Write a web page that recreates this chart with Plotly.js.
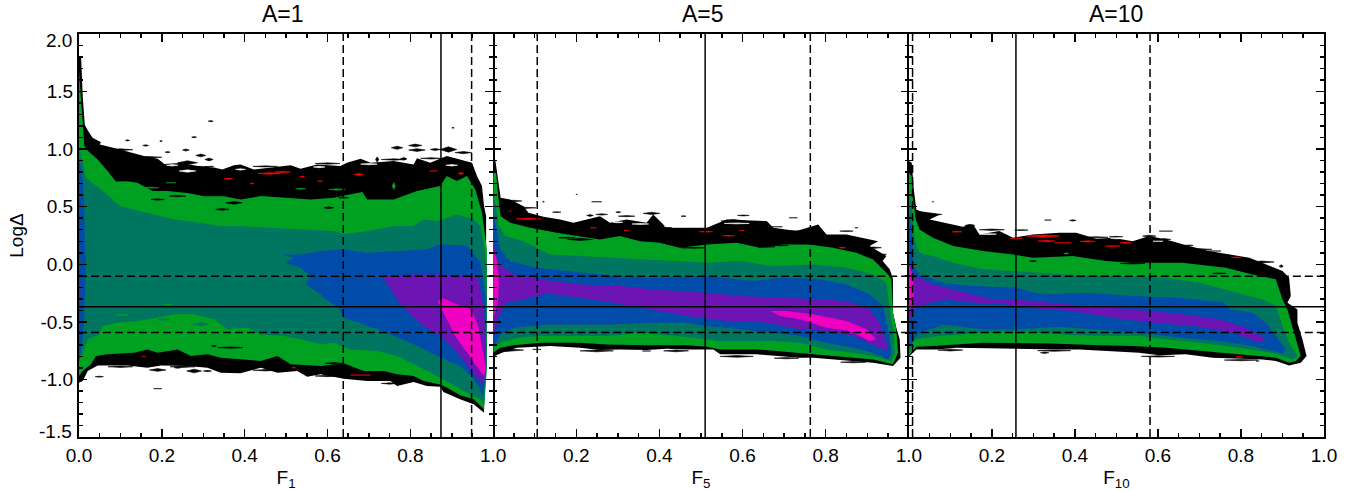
<!DOCTYPE html>
<html>
<head>
<meta charset="utf-8">
<script src="https://cdn.plot.ly/plotly-3.0.1.min.js"></script>
<style>html,body{margin:0;padding:0;background:#fff}</style>
</head>
<body>
<div id="chart" style="width:1354px;height:491px"></div>
<script>
// ---------- chart values (x = F_A, y = Log Delta) ----------
const yTickVals = [-1, -0.5, 0, 0.5, 1, 1.5];
const yTickText = ['-1.0', '-0.5', '0.0', '0.5', '1.0', '1.5'];
const yMinorVals = [-1.4,-1.3,-1.2,-1.1,-0.9,-0.8,-0.7,-0.6,-0.4,-0.3,-0.2,-0.1,0.1,0.2,0.3,0.4,0.6,0.7,0.8,0.9,1.1,1.2,1.3,1.4,1.6,1.7,1.8,1.9];
const xTicks1 = [0, 0.2, 0.4, 0.6, 0.8, 1];
const xTicksOther = [0.2, 0.4, 0.6, 0.8, 1];
const xMinorVals = [0.05,0.1,0.15,0.25,0.3,0.35,0.45,0.5,0.55,0.65,0.7,0.75,0.85,0.9,0.95];
const hMedian = -0.368, hLow = -0.592, hHigh = -0.103;
const vLines1 = [0.638, 0.874, 0.948];
const vLines5 = [0.106, 0.51, 0.763];
const vLines10 = [0.009, 0.258, 0.581];

// panel A=1 contour outlines
const a1BlackX = [0,.005,.009,.014,.025,.033,.053,.05,.085,.121,.157,.19,.206,.246,.286,.326,.346,.374,.39,.422,.479,.511,.535,.575,.631,.647,.68,.704,.76,.808,.816,.848,.888,.92,.949,.961,.973,.978,.983,.983,.98,.978,.953,.92,.88,.872,.84,.808,.768,.752,.696,.639,.583,.551,.527,.479,.439,.39,.342,.31,.262,.198,.165,.117,.045,.021,.009,0];
const a1BlackY = [1.81,1.81,1.46,1.21,1.14,1.1,1.06,1.04,1.01,.975,.94,.917,.87,.88,.853,.84,.823,.861,.867,.824,.844,.861,.83,.867,.853,.882,.916,.882,.896,.867,.92,.882,.94,.91,.882,.766,.68,.505,.419,.2,-1.2,-1.29,-1.216,-1.173,-1.109,-1.063,-1.057,-1.022,-1.057,-1.014,-1.014,-.994,-.956,-.976,-.927,-.941,-.898,-.947,-.941,-.898,-.884,-.878,-.898,-.878,-.878,-.927,-1.014,-1.028];
const a1GreenX = [0,.005,.009,.013,.022,.045,.069,.089,.117,.141,.178,.214,.262,.302,.35,.39,.439,.503,.559,.615,.684,.696,.76,.816,.872,.888,.912,.937,.957,.973,.978,.985,.985,.978,.953,.92,.888,.872,.832,.808,.768,.736,.688,.639,.583,.511,.479,.439,.342,.31,.27,.238,.19,.165,.133,.069,.041,.029,.009,0];
const a1GreenY = [1.68,1.46,1.23,1.03,.983,.91,.81,.72,.722,.708,.636,.636,.62,.59,.59,.563,.592,.578,.563,.578,.627,.563,.563,.636,.68,.766,.723,.766,.65,.448,.332,.129,-.9,-1.26,-1.173,-1.138,-1.07,-1.043,-1.014,-.97,-.956,-.927,-.927,-.86,-.884,-.869,-.797,-.84,-.811,-.782,-.797,-.739,-.768,-.739,-.768,-.782,-.797,-.869,-.927,-.97];
const a1TealX = [0,.005,.017,.053,.1,.165,.23,.294,.342,.39,.455,.535,.615,.639,.696,.76,.808,.832,.864,.912,.953,.969,.978,.984,.984,.978,.969,.937,.888,.872,.808,.768,.72,.655,.615,.583,.535,.495,.439,.407,.358,.326,.278,.23,.19,.141,.093,.057,.049,.021,.009,0];
const a1TealY = [1.0,.95,.75,.65,.505,.45,.39,.36,.33,.33,.317,.303,.288,.26,.288,.332,.332,.39,.375,.433,.39,.332,.158,-.02,-.9,-1.22,-1.173,-1.115,-1.014,-.985,-.869,-.797,-.753,-.739,-.681,-.695,-.652,-.623,-.609,-.551,-.565,-.478,-.435,-.435,-.464,-.493,-.507,-.536,-.609,-.652,-.768,-.84];
const a1BlueX = [.491,.535,.583,.631,.696,.768,.84,.872,.937,.969,.983,.983,.975,.965,.947,.92,.872,.84,.808,.76,.72,.664,.639,.627,.595,.583,.547,.559,.535,.499,.52];
const a1BlueY = [.086,.086,.115,.13,.1,.115,.13,.173,.158,.016,-.3,-.9,-1.144,-1.057,-.97,-.884,-.81,-.75,-.695,-.623,-.565,-.493,-.464,-.377,-.305,-.261,-.175,-.102,-.03,.013,.057];
const a1BlueEdgeX = [0,.007,.012,.014,.017,.015,.012,.007,0];
const a1BlueEdgeY = [.92,.8,.6,.2,0,-.2,-.5,-.7,-.85];
const a1PurpleX = [.732,.8,.872,.962,.977,.983,.98,.972,.948,.92,.874,.832,.804,.776];
const a1PurpleY = [-.102,-.088,-.088,-.102,-.363,-.767,-.983,-1.04,-.927,-.797,-.623,-.536,-.45,-.348];
const a1MagentaX = [.866,.88,.912,.948,.964,.983,.977,.948,.908,.88];
const a1MagentaY = [-.32,-.296,-.348,-.392,-.536,-.912,-.97,-.826,-.623,-.42];
const a1PurpleEdgeX = [0,.003,.003,0];
const a1PurpleEdgeY = [-.08,-.15,-.32,-.42];

// panel A=5 contour outlines
const a5BlackX = [.005,.013,.018,.041,.057,.073,.085,.121,.161,.193,.225,.257,.281,.321,.369,.385,.401,.417,.466,.514,.562,.658,.674,.73,.782,.802,.85,.926,.906,.946,.937,.954,.962,.962,.97,.978,.98,.962,.914,.866,.818,.77,.738,.682,.634,.546,.53,.466,.417,.369,.305,.257,.209,.137,.057,.021,0,0];
const a5BlackY = [.91,.708,.578,.563,.534,.505,.447,.413,.39,.361,.39,.418,.361,.39,.361,.433,.375,.317,.317,.317,.39,.375,.317,.288,.346,.259,.259,.2,.158,.071,.028,-.044,-.131,-.42,-.551,-.652,-.811,-.884,-.855,-.84,-.826,-.811,-.811,-.797,-.782,-.782,-.739,-.739,-.733,-.745,-.739,-.745,-.725,-.71,-.725,-.768,-.803,.91];
const a5GreenX = [0,.007,.013,.018,.041,.089,.153,.209,.257,.305,.353,.401,.449,.514,.586,.642,.698,.761,.818,.874,.914,.95,.958,.962,.97,.974,.962,.914,.866,.818,.77,.69,.634,.546,.514,.466,.369,.273,.209,.113,.049,.017,0];
const a5GreenY = [.795,.795,.563,.418,.361,.317,.274,.245,.216,.245,.201,.187,.143,.172,.187,.143,.172,.172,.143,.1,.042,-.088,-.131,-.42,-.565,-.768,-.869,-.826,-.811,-.797,-.782,-.753,-.739,-.739,-.716,-.704,-.704,-.696,-.681,-.681,-.704,-.725,-.768];
const a5TealX = [0,.007,.013,.029,.073,.137,.209,.289,.385,.514,.594,.674,.77,.85,.914,.946,.953,.962,.966,.958,.914,.866,.802,.738,.674,.594,.546,.482,.401,.353,.273,.193,.113,.057,.017,0];
const a5TealY = [.592,.505,.332,.245,.201,.086,.071,.057,.042,.013,.028,-.016,-.001,-.03,-.088,-.16,-.363,-.565,-.768,-.84,-.797,-.768,-.739,-.681,-.667,-.667,-.667,-.638,-.609,-.594,-.623,-.623,-.623,-.638,-.681,-.724];
const a5BlueX = [0,.009,.017,.041,.105,.177,.289,.385,.514,.626,.69,.786,.85,.906,.938,.95,.958,.95,.914,.866,.802,.738,.674,.594,.514,.466,.369,.289,.209,.129,.049,.017,.005,0];
const a5BlueY = [.462,.274,.129,.028,-.03,-.059,-.102,-.117,-.102,-.146,-.117,-.131,-.175,-.261,-.363,-.565,-.768,-.826,-.768,-.724,-.681,-.623,-.594,-.565,-.536,-.507,-.507,-.522,-.522,-.522,-.551,-.609,-.695,-.724];
const a5PurpleX = [0,.009,.021,.049,.113,.209,.305,.385,.514,.594,.69,.81,.866,.906,.93,.946,.948,.922,.866,.802,.738,.658,.562,.466,.417,.353,.289,.209,.129,.089,.033,.013,.007,0];
const a5PurpleY = [.216,.042,-.016,-.088,-.131,-.175,-.189,-.218,-.247,-.276,-.29,-.305,-.334,-.392,-.507,-.681,-.753,-.71,-.623,-.579,-.565,-.507,-.493,-.45,-.421,-.377,-.334,-.29,-.253,-.29,-.334,-.45,-.565,-.652];
const a5MagentaX = [.666,.706,.77,.85,.898,.922,.906,.858,.802,.738,.69];
const a5MagentaY = [-.406,-.406,-.435,-.493,-.565,-.652,-.667,-.58,-.551,-.478,-.45];
const a5MagentaEdgeX = [0,.008,.014,.012,.005,0];
const a5MagentaEdgeY = [.13,.05,-.12,-.3,-.42,-.45];

// panel A=10 contour outlines
const a10BlackX = [0,.007,.012,.018,.026,.075,.05,.083,.13,.155,.17,.218,.251,.299,.363,.403,.451,.491,.539,.579,.619,.675,.723,.82,.86,.9,.916,.92,.912,.936,.936,.948,.958,.944,.916,.884,.852,.796,.732,.667,.603,.555,.491,.411,.355,.259,.179,.115,.067,.018,.002,0];
const a10BlackY = [.896,.882,.65,.476,.462,.433,.39,.361,.326,.346,.259,.288,.23,.259,.274,.274,.222,.23,.201,.245,.216,.158,.115,.057,-.001,-.059,-.117,-.276,-.334,-.392,-.507,-.652,-.797,-.855,-.878,-.84,-.826,-.82,-.811,-.782,-.791,-.768,-.753,-.739,-.739,-.733,-.724,-.724,-.739,-.739,-.797,-.803];
const a10GreenX = [0,.007,.01,.017,.026,.058,.107,.179,.251,.299,.395,.475,.539,.659,.764,.828,.884,.9,.912,.924,.936,.944,.932,.916,.884,.796,.7,.619,.539,.459,.339,.259,.179,.058,.018,.006,0];
const a10GreenY = [.795,.766,.563,.39,.303,.23,.158,.115,.086,.057,.071,.028,.013,.013,-.03,-.088,-.131,-.305,-.392,-.536,-.681,-.797,-.84,-.855,-.811,-.782,-.753,-.724,-.71,-.704,-.687,-.687,-.681,-.71,-.716,-.768,-.797];
const a10TealX = [0,.007,.014,.026,.058,.107,.179,.259,.379,.499,.619,.7,.78,.852,.884,.9,.916,.936,.924,.876,.796,.7,.619,.555,.459,.379,.259,.179,.075,.018,.006,0];
const a10TealY = [.607,.505,.216,.1,.071,.013,-.044,-.059,-.088,-.102,-.117,-.16,-.233,-.305,-.363,-.536,-.681,-.797,-.826,-.768,-.724,-.681,-.652,-.623,-.623,-.609,-.58,-.594,-.623,-.652,-.695,-.768];
const a10BlueX = [0,.006,.012,.026,.083,.155,.259,.323,.427,.539,.651,.76,.772,.828,.86,.884,.908,.9,.828,.748,.659,.555,.459,.363,.259,.179,.083,.026,.014,.006,0];
const a10BlueY = [.462,.303,-.016,-.088,-.16,-.189,-.204,-.262,-.247,-.276,-.29,-.334,-.392,-.421,-.507,-.623,-.739,-.774,-.71,-.667,-.638,-.594,-.565,-.542,-.565,-.565,-.522,-.594,-.638,-.71,-.753];
const a10PurpleX = [0,.014,.058,.123,.203,.259,.339,.427,.539,.659,.748,.812,.86,.844,.78,.684,.587,.491,.395,.283,.235,.155,.091,.05,.018,.01,0];
const a10PurpleY = [.013,-.102,-.175,-.233,-.305,-.305,-.334,-.363,-.392,-.435,-.478,-.551,-.652,-.675,-.594,-.536,-.507,-.464,-.406,-.377,-.348,-.334,-.305,-.334,-.377,-.435,-.493];
const a10MagentaEdgeX = [0,.01,.012,.006,0];
const a10MagentaEdgeY = [-.001,-.102,-.276,-.363,-.4];

// isolated contour islands: centre x, centre y, half width, half height
const a1BlackIsleX = [.318,.278,.117,.161,.198,.258,.294,.314,.214,.262,.768,.812,.816,.892,.928,.86,.72,.784,.903,.19,.278,.238,.31,.049,.19,.346,.603,.238,.19,.374,.736,.639,.366,.326,.615];
const a1BlackIsleY = [1.243,1.104,1.076,1.032,1.07,.992,.945,.91,.974,.882,1.012,1.032,.992,.997,.97,.997,.91,.916,1.185,-.918,-.927,-.898,-.927,-.976,-1.08,.477,.491,.592,.563,.534,.607,.578,-.724,-.71,-.86];
const a1BlackIsleW = [.006,.006,.005,.007,.003,.008,.012,.01,.006,.024,.014,.016,.02,.02,.02,.012,.004,.008,.003,.02,.018,.008,.01,.01,.01,.016,.012,.02,.016,.02,.014,.012,.03,.006,.02];
const a1BlackIsleH = [.005,.005,.006,.006,.006,.009,.012,.012,.006,.017,.014,.012,.012,.023,.009,.009,.023,.012,.004,.012,.016,.006,.006,.004,.002,.008,.008,.006,.006,.012,.01,.004,.006,.004,.006];
const a1FringeX = [.1,.17,.3,.45,.6,.76,.85,.1,.25,.45,.6,.75];
const a1FringeY = [.995,.93,.85,.85,.875,.91,.92,-.89,-.89,-.92,-.97,-1.035];
const a1FringeW = [.03,.03,.025,.03,.03,.03,.025,.03,.03,.03,.03,.02];
const a1FringeH = [.008,.006,.006,.005,.006,.006,.006,.006,.006,.006,.006,.006];
const a1HoleX = [.262,.39,.225,.3,.58,.9,.7];
const a1HoleY = [.81,.824,.86,.86,.845,.86,.87];
const a1HoleW = [.02,.012,.014,.016,.014,.014,.02];
const a1HoleH = [.01,.006,.006,.006,.006,.006,.006];
const a1GreenIsleX = [.76,.623,.535,.222,.173,.214,.105];
const a1GreenIsleY = [.68,.65,.656,.708,.665,-.348,-.44];
const a1GreenIsleW = [.004,.02,.012,.012,.02,.012,.014];
const a1GreenIsleH = [.03,.006,.004,.003,.005,.006,.006];
const a1TealIsleX = [.294,.205];
const a1TealIsleY = [-.52,-.48];
const a1TealIsleW = [.018,.014];
const a1TealIsleH = [.016,.008];
const a1RedX = [.459,.491,.361,.418,.539,.582,.675,.922,.856,.68,.519,.157];
const a1RedY = [.789,.801,.743,.702,.76,.722,.78,.789,.81,-.962,-.898,-.8];
const a1RedW = [.028,.02,.01,.005,.006,.006,.012,.007,.01,.024,.004,.004];
const a1RedH = [.007,.007,.004,.005,.004,.004,.008,.008,.002,.003,.004,.002];

const a5BlackIsleX = [.121,.249,.201,.153,.233,.261,.321,.301,.381,.458,.602,.578,.61,.682,.85,.874,.722,.105,.369,.209,.177,.433,.482,.69,.658];
const a5BlackIsleY = [.543,.543,.607,.453,.424,.433,.418,.453,.442,.418,.424,.375,.337,.326,.288,.317,.404,-.739,-.753,.216,.23,.173,.143,.164,.152];
const a5BlackIsleW = [.002,.012,.002,.01,.008,.014,.02,.006,.02,.006,.014,.03,.04,.014,.016,.004,.01,.01,.01,.03,.02,.016,.03,.02,.02];
const a5BlackIsleH = [.004,.002,.002,.004,.008,.006,.005,.006,.01,.004,.004,.014,.005,.003,.004,.002,.002,.003,.003,.01,.004,.006,.004,.004,.005];
const a5FringeX = [.033,.249,.44,.586,.706,.866,.049,.073,.329,.41,.545,.626,.746,.85,.914,.93];
const a5FringeY = [-.745,-.752,-.752,-.8,-.815,-.85,.55,.49,.361,.317,.326,.366,.288,.23,.144,.086];
const a5FringeW = [.04,.04,.03,.04,.03,.03,.02,.03,.03,.02,.02,.03,.03,.03,.02,.016];
const a5FringeH = [.012,.008,.008,.008,.006,.006,.006,.006,.004,.006,.004,.006,.004,.006,.006,.005];
const a5HoleX = [.442,.586,.354,.49,.3];
const a5HoleY = [.33,.355,.35,.345,.365];
const a5HoleW = [.03,.03,.02,.012,.012];
const a5HoleH = [.006,.004,.004,.004,.004];
const a5RedX = [.085,.241,.321,.512,.566,.598,.84,.041];
const a5RedY = [.395,.317,.294,.283,.248,.294,.144,.462];
const a5RedW = [.03,.008,.006,.016,.014,.006,.008,.003];
const a5RedH = [.006,.003,.003,.004,.004,.002,.004,.002];

const a10BlackIsleX = [.058,.05,.147,.335,.395,.271,.499,.579,.619,.615,.675,.736,.897,.327,.84,.299,.539,.748];
const a10BlackIsleY = [.543,.433,.337,.384,.381,.297,.239,.245,.288,.216,.164,.115,-.016,-.768,-.84,.028,.008,-.079];
const a10BlackIsleW = [.002,.03,.012,.008,.008,.016,.016,.016,.016,.016,.01,.016,.005,.01,.004,.008,.03,.016];
const a10BlackIsleH = [.002,.012,.01,.003,.006,.004,.004,.008,.003,.008,.004,.003,.012,.006,.003,.005,.006,.004];
const a10FringeX = [.1,.35,.6,.8,.2,.45,.7,.85];
const a10FringeY = [-.745,-.75,-.8,-.832,.3,.235,.13,.02];
const a10FringeW = [.03,.04,.04,.04,.03,.03,.03,.03];
const a10FringeH = [.008,.006,.006,.006,.006,.005,.006,.008];
const a10HoleX = [.191,.24,.5,.6];
const a10HoleY = [.262,.27,.225,.2];
const a10HoleW = [.02,.01,.014,.012];
const a10HoleH = [.004,.004,.004,.003];
const a10GreenIsleX = [.379];
const a10GreenIsleY = [.094];
const a10GreenIsleW = [.006];
const a10GreenIsleH = [.006];
const a10RedX = [.116,.259,.323,.331,.371,.431,.491,.523,.788,.796];
const a10RedY = [.282,.225,.245,.202,.187,.199,.158,.187,.06,-.803];
const a10RedW = [.012,.014,.04,.02,.02,.018,.018,.014,.012,.008];
const a10RedH = [.004,.004,.01,.006,.003,.006,.004,.004,.004,.003];

// ---------- styles ----------
const BLACK = '#000000', RED = '#ff0000', GREEN = '#00a020', TEAL = '#007560',
      BLUE = '#004ca8', PURPLE = '#6c14b4', MAGENTA = '#f000c0', WHITE = '#ffffff';
const FONT = 'Liberation Sans, Arial, sans-serif';

function band(xs, ys, color, ax) {
  return {type:'scatter', mode:'lines', x:xs.concat(xs[0]), y:ys.concat(ys[0]),
    fill:'toself', fillcolor:color, line:{width:0, color:color}, hoverinfo:'skip',
    showlegend:false, xaxis:ax.x, yaxis:ax.y};
}
function isles(cx, cy, w, h, color, ax) {
  const xs = [], ys = [];
  cx.forEach((c, i) => {
    xs.push(c - w[i], c, c + w[i], c, c - w[i], null);
    ys.push(cy[i], cy[i] + h[i], cy[i], cy[i] - h[i], cy[i], null);
  });
  return {type:'scatter', mode:'lines', x:xs, y:ys, fill:'toself', fillcolor:color,
    line:{width:0.6, color:color}, hoverinfo:'skip', showlegend:false, xaxis:ax.x, yaxis:ax.y};
}
function ref(xs, ys, dash, ax) {
  return {type:'scatter', mode:'lines', x:xs, y:ys, line:{color:'#000', width:1.5, dash:dash},
    hoverinfo:'skip', showlegend:false, xaxis:ax.x, yaxis:ax.y};
}
function refLines(vs, ax) {
  return [
    ref([vs[0],vs[0]], [-1.5,2], '8px,4px', ax),
    ref([vs[1],vs[1]], [-1.5,2], 'solid', ax),
    ref([vs[2],vs[2]], [-1.5,2], '8px,4px', ax),
    ref([0,1], [hMedian,hMedian], 'solid', ax),
    ref([0,1], [hLow,hLow], '8px,4px', ax),
    ref([0,1], [hHigh,hHigh], '8px,4px', ax)
  ];
}

const A1 = {x:'x', y:'y'}, A5 = {x:'x2', y:'y2'}, A10 = {x:'x3', y:'y3'};
const data = [
  band(a1BlackX, a1BlackY, BLACK, A1),
  isles(a1BlackIsleX, a1BlackIsleY, a1BlackIsleW, a1BlackIsleH, BLACK, A1),
  isles(a1FringeX, a1FringeY, a1FringeW, a1FringeH, BLACK, A1),
  isles(a1HoleX, a1HoleY, a1HoleW, a1HoleH, WHITE, A1),
  isles(a1RedX, a1RedY, a1RedW, a1RedH, RED, A1),
  band(a1GreenX, a1GreenY, GREEN, A1),
  isles(a1BlackIsleX.slice(25), a1BlackIsleY.slice(25), a1BlackIsleW.slice(25), a1BlackIsleH.slice(25), BLACK, A1),
  band(a1TealX, a1TealY, TEAL, A1),
  isles(a1GreenIsleX, a1GreenIsleY, a1GreenIsleW, a1GreenIsleH, GREEN, A1),
  isles(a1TealIsleX, a1TealIsleY, a1TealIsleW, a1TealIsleH, TEAL, A1),
  band(a1BlueX, a1BlueY, BLUE, A1),
  band(a1BlueEdgeX, a1BlueEdgeY, BLUE, A1),
  band(a1PurpleX, a1PurpleY, PURPLE, A1),
  band(a1PurpleEdgeX, a1PurpleEdgeY, PURPLE, A1),
  band(a1MagentaX, a1MagentaY, MAGENTA, A1),
  ...refLines(vLines1, A1),

  band(a5BlackX, a5BlackY, BLACK, A5),
  isles(a5BlackIsleX, a5BlackIsleY, a5BlackIsleW, a5BlackIsleH, BLACK, A5),
  isles(a5FringeX, a5FringeY, a5FringeW, a5FringeH, BLACK, A5),
  isles(a5HoleX, a5HoleY, a5HoleW, a5HoleH, WHITE, A5),
  band(a5GreenX, a5GreenY, GREEN, A5),
  isles(a5BlackIsleX.slice(19), a5BlackIsleY.slice(19), a5BlackIsleW.slice(19), a5BlackIsleH.slice(19), BLACK, A5),
  isles(a5RedX, a5RedY, a5RedW, a5RedH, RED, A5),
  band(a5TealX, a5TealY, TEAL, A5),
  band(a5BlueX, a5BlueY, BLUE, A5),
  band(a5PurpleX, a5PurpleY, PURPLE, A5),
  band(a5MagentaX, a5MagentaY, MAGENTA, A5),
  band(a5MagentaEdgeX, a5MagentaEdgeY, MAGENTA, A5),
  ...refLines(vLines5, A5),

  band(a10BlackX, a10BlackY, BLACK, A10),
  isles(a10BlackIsleX, a10BlackIsleY, a10BlackIsleW, a10BlackIsleH, BLACK, A10),
  isles(a10FringeX, a10FringeY, a10FringeW, a10FringeH, BLACK, A10),
  isles(a10HoleX, a10HoleY, a10HoleW, a10HoleH, WHITE, A10),
  band(a10GreenX, a10GreenY, GREEN, A10),
  isles(a10BlackIsleX.slice(15), a10BlackIsleY.slice(15), a10BlackIsleW.slice(15), a10BlackIsleH.slice(15), BLACK, A10),
  isles(a10GreenIsleX, a10GreenIsleY, a10GreenIsleW, a10GreenIsleH, GREEN, A10),
  isles(a10RedX, a10RedY, a10RedW, a10RedH, RED, A10),
  band(a10TealX, a10TealY, TEAL, A10),
  band(a10BlueX, a10BlueY, BLUE, A10),
  band(a10PurpleX, a10PurpleY, PURPLE, A10),
  band(a10MagentaEdgeX, a10MagentaEdgeY, MAGENTA, A10),
  ...refLines(vLines10, A10)
];

const W = 1354, H = 491, L = 78.5, R = 1324.5, T = 34, B = 437;
const plotW = R - L;
const edge1 = (493 - L) / plotW, edge2 = (909 - L) / plotW;
const TICK = {ticks:'inside', ticklen:8, tickwidth:1.5, tickcolor:'#000', mirror:'ticks'};
const MINOR = {ticks:'inside', tickmode:'array', ticklen:4, tickwidth:1.5, tickcolor:'#000', showgrid:false};

function xAxis(dom, ticks, yName, label) {
  return Object.assign({domain:dom, range:[0,1], anchor:yName, tickmode:'array', tickvals:ticks, ticktext:ticks.map(v => v.toFixed(1)),
    showline:true, linecolor:'#000', linewidth:2, showgrid:false, zeroline:false,
    minor:Object.assign({tickvals:xMinorVals}, MINOR),
    tickfont:{family:FONT, size:19, color:'#000'},
    title:{text:label, font:{family:FONT, size:19, color:'#000'}, standoff:8}}, TICK);
}
function yAxis(xName, showLabels, line, title) {
  return Object.assign({domain:[0,1], range:[-1.5,2], anchor:xName, tickmode:'array', tickvals:yTickVals, ticktext:yTickText,
    showticklabels:showLabels, showline:line, linecolor:'#000', linewidth:2, showgrid:false, zeroline:false,
    minor:Object.assign({tickvals:yMinorVals}, MINOR),
    tickfont:{family:FONT, size:19, color:'#000'},
    title:title ? {text:title, font:{family:FONT, size:19, color:'#000'}, standoff:12} : undefined}, TICK);
}
function header(text, cx) {
  return {xref:'paper', yref:'paper', x:(cx - L)/plotW, y:1, yshift:5, yanchor:'bottom', xanchor:'center',
    text:text, showarrow:false, font:{family:FONT, size:23, color:'#000'}};
}
function edgeLabel(text, val, shift) {
  return {xref:'paper', yref:'y', x:0, xshift:-5, y:val, yshift:shift, xanchor:'right', yanchor:'middle',
    text:text, showarrow:false, font:{family:FONT, size:19, color:'#000'}};
}

const layout = {
  width:W, height:H, autosize:false, paper_bgcolor:'#fff', plot_bgcolor:'#fff', showlegend:false,
  margin:{l:L, r:W-R, t:T, b:H-B, pad:0},
  xaxis: xAxis([0,edge1], xTicks1, 'y', 'F<sub>1</sub>'),
  xaxis2:xAxis([edge1,edge2], xTicksOther, 'y2', 'F<sub>5</sub>'),
  xaxis3:xAxis([edge2,1], xTicksOther, 'y3', 'F<sub>10</sub>'),
  yaxis: yAxis('x', true, true, 'LogΔ'),
  yaxis2:yAxis('x2', false, false),
  yaxis3:yAxis('x3', false, true),
  annotations:[
    header('A=1', 283), header('A=5', 703), header('A=10', 1116),
    edgeLabel('2.0', 2, -6), edgeLabel('-1.5', -1.5, 6)
  ]
};
Plotly.newPlot('chart', data, layout, {displayModeBar:false, staticPlot:true});
</script>
</body>
</html>
